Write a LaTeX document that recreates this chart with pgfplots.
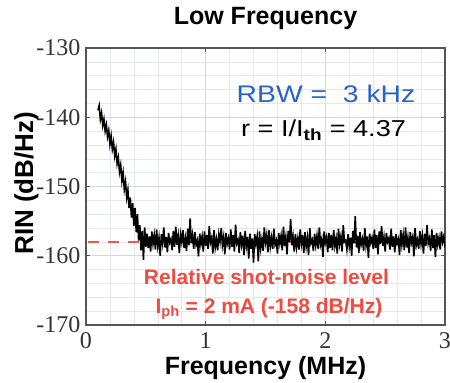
\documentclass[border=0pt]{standalone}
\usepackage{fontspec}
\setmainfont{Liberation Sans}
\newfontfamily\serif{Liberation Serif}
\usepackage{pgfplots}
\pgfplotsset{compat=1.18}
\definecolor{rbwblue}{RGB}{40,100,200}
\definecolor{snred}{RGB}{240,75,65}
\definecolor{dashred}{RGB}{232,90,78}
\definecolor{axgray}{RGB}{85,85,85}
\definecolor{gridmaj}{RGB}{210,214,222}
\definecolor{gridmin}{RGB}{228,231,237}
\begin{document}
\begin{tikzpicture}
\useasboundingbox (0,0) rectangle (450pt,383pt);
\begin{axis}[
  at={(86pt,58pt)}, anchor=south west,
  scale only axis, width=359pt, height=277pt,
  xmin=0, xmax=3, ymin=-170, ymax=-130,
  xtick={0,1,2,3}, ytick={-170,-160,-150,-140,-130},
  minor x tick num=4, minor y tick num=4,
  grid=both,
  major grid style={draw=gridmaj, line width=0.6pt},
  minor grid style={draw=gridmin, line width=0.6pt},
  axis line style={draw=axgray, line width=1.3pt},
  tick style={draw=axgray, line width=0.8pt},
  major tick length=4pt, minor tick length=0pt,
  tick align=inside,
  /pgf/number format/assume math mode=true,
  tick label style={font=\fontsize{24}{24}\selectfont\serif, text=black!80},
  xticklabel style={yshift=-4pt},
  yticklabel style={xshift=-2pt},
  title={Low Frequency},
  title style={font=\fontsize{25}{25}\selectfont\bfseries, at={(axis description cs:0.5,1.0614)}, anchor=base},
  xlabel={Frequency (MHz)},
  xlabel style={font=\fontsize{25}{25}\selectfont\bfseries, at={(axis description cs:0.5,-0.1769)}, anchor=base},
  ylabel={RIN (dB/Hz)},
  ylabel style={font=\fontsize{26}{26}\selectfont\bfseries, at={(axis description cs:-0.1476,0.512)}, anchor=base},
]
\addplot[dashred, line width=2.4pt, dash pattern=on 11pt off 9pt] coordinates {(0.02,-158) (3,-158)};
\addplot[black, line width=1.6pt] table {
x y
0.10 -139.0
0.11 -138.3
0.12 -140.3
0.13 -139.4
0.14 -141.2
0.15 -140.3
0.16 -142.0
0.17 -141.1
0.18 -142.8
0.19 -141.9
0.20 -143.9
0.21 -142.7
0.22 -144.6
0.23 -143.6
0.24 -145.6
0.25 -144.6
0.26 -146.7
0.27 -145.8
0.28 -147.9
0.29 -146.9
0.30 -149.2
0.31 -148.0
0.32 -150.4
0.33 -149.3
0.34 -151.6
0.35 -150.5
0.36 -153.1
0.37 -151.6
0.38 -154.5
0.39 -152.4
0.40 -155.7
0.41 -153.1
0.42 -156.6
0.43 -154.0
0.44 -157.8
0.45 -155.6
0.46 -159.2
0.47 -156.4
0.48 -160.6
0.49 -155.9
0.50 -158.7
0.51 -156.8
0.52 -158.9
0.53 -157.2
0.54 -159.4
0.55 -156.5
0.56 -158.3
0.57 -157.0
0.58 -159.1
0.59 -156.2
0.60 -158.6
0.61 -157.4
0.62 -160.0
0.63 -156.9
0.64 -158.2
0.65 -155.9
0.66 -158.8
0.67 -157.3
0.68 -159.5
0.69 -156.7
0.70 -158.1
0.71 -157.6
0.72 -159.2
0.73 -156.4
0.74 -158.7
0.75 -155.8
0.76 -158.4
0.77 -157.1
0.78 -159.6
0.79 -156.9
0.80 -158.0
0.81 -156.3
0.82 -158.9
0.83 -157.5
0.84 -159.3
0.85 -156.1
0.86 -158.5
0.87 -154.6
0.88 -158.2
0.89 -157.0
0.90 -159.0
0.91 -156.6
0.92 -158.4
0.93 -157.8
0.94 -160.1
0.95 -156.8
0.96 -158.3
0.97 -157.2
0.98 -159.4
0.99 -156.5
1.00 -158.6
1.01 -157.0
1.02 -159.0
1.03 -155.7
1.04 -158.1
1.05 -157.4
1.06 -159.7
1.07 -156.3
1.08 -158.8
1.09 -157.6
1.10 -159.2
1.11 -156.9
1.12 -158.0
1.13 -156.0
1.14 -158.5
1.15 -157.3
1.16 -159.8
1.17 -156.7
1.18 -158.3
1.19 -157.5
1.20 -159.1
1.21 -156.2
1.22 -158.7
1.23 -157.0
1.24 -159.4
1.25 -155.5
1.26 -158.2
1.27 -157.7
1.28 -159.6
1.29 -156.6
1.30 -158.4
1.31 -157.1
1.32 -159.9
1.33 -156.4
1.34 -158.6
1.35 -157.3
1.36 -160.4
1.37 -156.8
1.38 -159.0
1.39 -157.5
1.40 -161.0
1.41 -156.9
1.42 -158.3
1.43 -157.2
1.44 -160.8
1.45 -156.5
1.46 -158.9
1.47 -157.6
1.48 -159.3
1.49 -155.9
1.50 -158.1
1.51 -157.0
1.52 -159.5
1.53 -156.3
1.54 -158.7
1.55 -157.4
1.56 -159.0
1.57 -156.1
1.58 -158.4
1.59 -157.8
1.60 -159.7
1.61 -156.7
1.62 -158.2
1.63 -157.1
1.64 -159.2
1.65 -155.8
1.66 -158.6
1.67 -157.3
1.68 -159.8
1.69 -156.4
1.70 -158.0
1.71 -154.7
1.72 -158.5
1.73 -157.2
1.74 -159.4
1.75 -156.9
1.76 -158.8
1.77 -157.5
1.78 -159.1
1.79 -156.2
1.80 -158.3
1.81 -157.0
1.82 -159.6
1.83 -156.6
1.84 -158.7
1.85 -157.4
1.86 -159.9
1.87 -156.0
1.88 -158.2
1.89 -157.7
1.90 -159.3
1.91 -156.8
1.92 -158.5
1.93 -157.1
1.94 -159.0
1.95 -155.9
1.96 -158.4
1.97 -157.6
1.98 -160.2
1.99 -156.5
2.00 -158.1
2.01 -157.3
2.02 -159.5
2.03 -156.7
2.04 -158.9
2.05 -157.0
2.06 -159.2
2.07 -156.3
2.08 -158.6
2.09 -157.5
2.10 -159.7
2.11 -156.1
2.12 -158.3
2.13 -157.2
2.14 -159.4
2.15 -155.6
2.16 -158.0
2.17 -157.8
2.18 -159.1
2.19 -156.9
2.20 -158.7
2.21 -157.4
2.22 -160.0
2.23 -156.4
2.24 -158.2
2.25 -154.3
2.26 -158.8
2.27 -157.1
2.28 -159.6
2.29 -156.6
2.30 -158.4
2.31 -157.6
2.32 -159.3
2.33 -156.0
2.34 -158.5
2.35 -157.2
2.36 -160.3
2.37 -156.8
2.38 -158.1
2.39 -157.4
2.40 -159.0
2.41 -156.2
2.42 -158.9
2.43 -157.0
2.44 -159.8
2.45 -156.5
2.46 -158.3
2.47 -155.7
2.48 -158.6
2.49 -157.3
2.50 -159.4
2.51 -156.7
2.52 -158.0
2.53 -157.5
2.54 -159.1
2.55 -156.1
2.56 -158.7
2.57 -157.2
2.58 -159.5
2.59 -156.9
2.60 -158.2
2.61 -157.6
2.62 -159.9
2.63 -156.3
2.64 -158.4
2.65 -157.0
2.66 -159.2
2.67 -155.9
2.68 -158.8
2.69 -157.4
2.70 -159.6
2.71 -156.6
2.72 -158.1
2.73 -157.3
2.74 -160.1
2.75 -156.0
2.76 -158.5
2.77 -157.7
2.78 -159.0
2.79 -156.4
2.80 -158.3
2.81 -157.1
2.82 -159.7
2.83 -156.8
2.84 -158.6
2.85 -155.6
2.86 -158.2
2.87 -157.5
2.88 -159.3
2.89 -156.2
2.90 -158.9
2.91 -157.0
2.92 -160.2
2.93 -156.7
2.94 -158.4
2.95 -157.4
2.96 -159.1
2.97 -156.5
2.98 -158.0
2.99 -157.2
3.00 -158.8
};
\node[text=rbwblue, font=\fontsize{24}{24}\selectfont, anchor=base, xscale=1.18] at (axis cs:2.006,-137.94) {RBW =\ \ 3 kHz};
\node[text=black, font=\fontsize{23}{23}\selectfont, anchor=base, xscale=1.18] at (axis cs:1.985,-142.85) {r = I/I\textsubscript{\bfseries th} = 4.37};
\node[text=snred, font=\fontsize{21}{21}\selectfont\bfseries, anchor=base] at (axis cs:1.508,-164.22) {Relative shot-noise level};
\node[text=snred, font=\fontsize{21}{21}\selectfont\bfseries, anchor=base] at (axis cs:1.529,-168.3) {I\textsubscript{ph} = 2 mA (-158 dB/Hz)};
\end{axis}
\end{tikzpicture}
\end{document}
